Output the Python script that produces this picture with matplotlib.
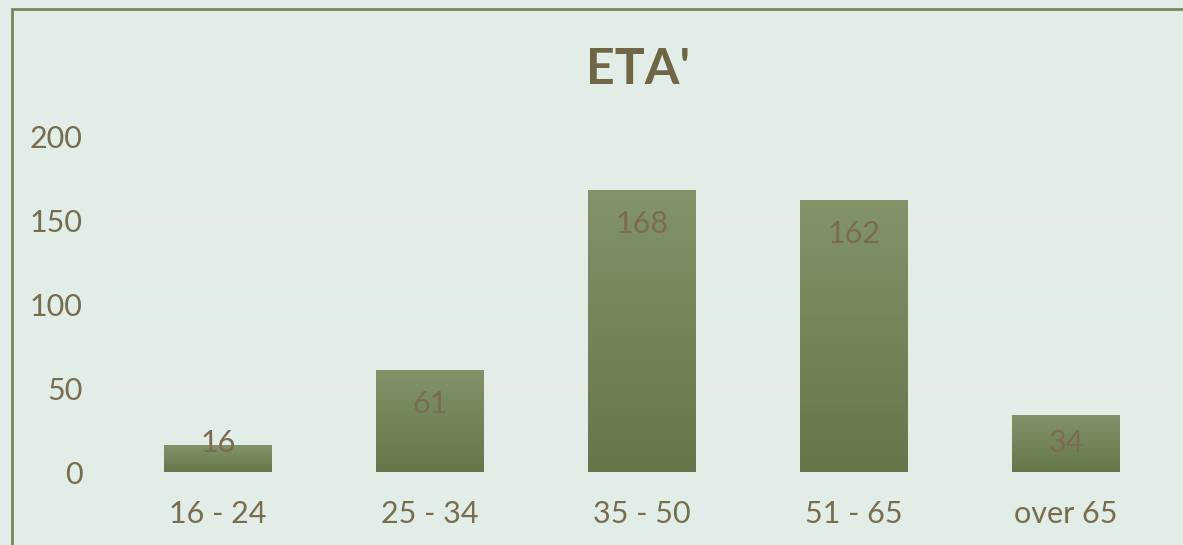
import numpy as np
import matplotlib
matplotlib.use("Agg")
from matplotlib import pyplot as plt
from matplotlib.patches import Rectangle

# data
categories = ["16 - 24", "25 - 34", "35 - 50", "51 - 65", "over 65"]
values = [16, 61, 168, 162, 34]
yticks = [0, 50, 100, 150, 200]
title = "ETA'"

BG = "#e3ede7"
TEXT = "#776d50"
TITLE = "#6f6646"
GRID = "#ede8df"

plt.rcParams["font.family"] = ["Lato", "DejaVu Sans"]

fig = plt.figure(figsize=(11.83, 5.45), dpi=100)
fig.patch.set_facecolor(BG)

# outer chart border (cropped on right/bottom)
W, H = 1183, 545
fig.add_artist(Rectangle((12 / W, -0.05), 1.2, 1 - 9 / H + 0.05,
                         transform=fig.transFigure, fill=False,
                         edgecolor="#74895a", linewidth=2))

ax = fig.add_axes([112 / W, 1 - 472 / H, (1172 - 112) / W, (472 - 136) / H])
ax.set_facecolor("none")

for sp in ax.spines.values():
    sp.set_visible(False)
ax.set_yticks(yticks)
ax.yaxis.grid(True, color=GRID, linewidth=1.5)
ax.set_axisbelow(True)
ax.tick_params(length=0)
ax.tick_params(axis="y", pad=21, labelsize=22, labelcolor=TEXT)
ax.tick_params(axis="x", pad=20, labelsize=22, labelcolor=TEXT)
x = np.arange(len(categories))
ax.set_xticks(x)
ax.set_xticklabels(categories)

# gradient bars
grad = np.linspace(0, 1, 256).reshape(-1, 1)
cmap = matplotlib.colors.LinearSegmentedColormap.from_list(
    "olive", ["#65774a", "#83936a"])
bars = ax.bar(x, values, width=0.505, color="none", zorder=2)
for b in bars:
    x0, w, h = b.get_x(), b.get_width(), b.get_height()
    im = ax.imshow(grad, cmap=cmap, origin="lower", aspect="auto",
                   extent=[x0, x0 + w, 0, h], zorder=2)
    im.set_clip_path(b)
ax.set_xlim(-0.5, len(categories) - 0.5)
ax.set_ylim(0, 200)

# data labels near top of bars
for xi, v in zip(x, values):
    ax.text(xi, max(v - 20.5, 17.3), str(v), ha="center", va="center",
            fontsize=22, color="#7a6c52", zorder=3)

fig.text(638 / W, 1 - 70 / H, title, ha="center", va="center",
         fontsize=36, fontweight="bold", color=TITLE)

fig.savefig("out.png", dpi=100, facecolor=fig.get_facecolor())
